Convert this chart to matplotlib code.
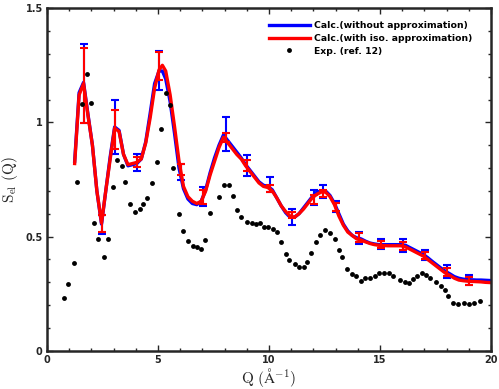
import matplotlib
matplotlib.use('Agg')
import matplotlib.pyplot as plt
from matplotlib.ticker import MultipleLocator

# calculated curves
q_calc = [1.25, 1.45, 1.65, 1.85, 2.05, 2.25, 2.46, 2.65, 2.85, 3.05, 3.25, 3.45, 3.65, 3.85,
          4.05, 4.25, 4.45, 4.65, 4.85, 5.05, 5.2, 5.35, 5.55, 5.75, 5.95, 6.15, 6.35, 6.55,
          6.75, 6.95, 7.15, 7.35, 7.55, 7.75, 7.95, 8.15, 8.35, 8.55, 8.75, 8.95, 9.15, 9.35,
          9.55, 9.75, 9.95, 10.15, 10.35, 10.55, 10.75, 10.95, 11.15, 11.35, 11.55, 11.75,
          11.95, 12.15, 12.35, 12.55, 12.75, 12.95, 13.15, 13.35, 13.55, 13.75, 13.95, 14.15,
          14.35, 14.55, 14.75, 14.95, 15.15, 15.35, 15.55, 15.75, 15.95, 16.15, 16.35, 16.55,
          16.75, 16.95, 17.15, 17.35, 17.55, 17.75, 17.95, 18.15, 18.35, 18.55, 18.75, 18.95,
          19.15, 19.35, 19.55, 19.75, 19.95]
s_full = [0.83, 1.13, 1.175, 1.035, 0.90, 0.70, 0.555, 0.70, 0.85, 0.98, 0.965, 0.86, 0.81, 0.815,
          0.82, 0.84, 0.915, 1.04, 1.17, 1.225, 1.225, 1.19, 1.09, 0.95, 0.80, 0.71, 0.665, 0.645,
          0.64, 0.655, 0.705, 0.78, 0.845, 0.90, 0.945, 0.92, 0.895, 0.87, 0.845, 0.815, 0.79, 0.765,
          0.74, 0.725, 0.72, 0.705, 0.67, 0.635, 0.605, 0.585, 0.585, 0.60, 0.625, 0.65,
          0.675, 0.695, 0.70, 0.70, 0.68, 0.645, 0.60, 0.555, 0.525, 0.505, 0.495, 0.49,
          0.48, 0.472, 0.468, 0.465, 0.465, 0.465, 0.465, 0.465, 0.465, 0.462, 0.452, 0.442,
          0.432, 0.422, 0.408, 0.392, 0.377, 0.362, 0.348, 0.337, 0.325, 0.318, 0.314, 0.312,
          0.311, 0.31, 0.31, 0.309, 0.308]
s_iso = [0.82, 1.12, 1.17, 1.03, 0.90, 0.70, 0.56, 0.70, 0.84, 0.975, 0.96, 0.86, 0.815, 0.82,
         0.825, 0.84, 0.91, 1.02, 1.15, 1.23, 1.25, 1.225, 1.12, 0.98, 0.83, 0.72, 0.675, 0.655,
         0.645, 0.655, 0.70, 0.77, 0.83, 0.89, 0.935, 0.91, 0.885, 0.86, 0.84, 0.81, 0.785, 0.76,
         0.735, 0.72, 0.715, 0.70, 0.67, 0.635, 0.61, 0.59, 0.585, 0.60, 0.62, 0.645,
         0.67, 0.685, 0.695, 0.695, 0.675, 0.64, 0.59, 0.55, 0.52, 0.505, 0.49, 0.485,
         0.477, 0.47, 0.465, 0.462, 0.461, 0.46, 0.46, 0.46, 0.46, 0.455, 0.445, 0.435,
         0.425, 0.415, 0.40, 0.385, 0.37, 0.355, 0.34, 0.33, 0.318, 0.31, 0.307, 0.305,
         0.304, 0.303, 0.302, 0.30, 0.299]

# error bars
q_err = [1.67, 2.46, 3.06, 4.04, 5.05, 6.02, 7.04, 8.05, 9.02, 10.05, 11.05, 12.04, 12.45,
         13.02, 14.05, 15.03, 16.02, 17.03, 18.03, 19.02]
full_c = [1.172, 0.553, 0.98, 0.825, 1.227, 0.784, 0.675, 0.95, 0.812, 0.728, 0.586, 0.67, 0.698,
          0.633, 0.494, 0.467, 0.461, 0.42, 0.347, 0.31]
full_e = [0.173, 0.043, 0.117, 0.037, 0.086, 0.036, 0.041, 0.074, 0.045, 0.031, 0.035, 0.032, 0.028,
          0.024, 0.028, 0.022, 0.027, 0.022, 0.029, 0.023]
iso_c = [1.162, 0.556, 0.969, 0.828, 1.247, 0.795, 0.674, 0.934, 0.812, 0.712, 0.595, 0.662, 0.69,
         0.629, 0.497, 0.466, 0.46, 0.417, 0.346, 0.307]
iso_e = [0.164, 0.037, 0.086, 0.022, 0.062, 0.025, 0.031, 0.019, 0.024, 0.015, 0.015, 0.021, 0.015,
         0.017, 0.019, 0.017, 0.018, 0.016, 0.018, 0.018]

# experiment (ref. 12)
q_exp = [0.77, 0.96, 1.20, 1.37, 1.58, 1.79, 1.98, 2.13, 2.31, 2.55, 2.76, 2.99, 3.14, 3.38, 3.53,
         3.75, 3.98, 4.19, 4.35, 4.52, 4.73, 4.95, 5.14, 5.36, 5.55, 5.68, 5.96, 6.11, 6.37, 6.58,
         6.76, 6.95, 7.14, 7.36, 7.76, 7.97, 8.18, 8.38, 8.54, 8.74, 9.02, 9.22, 9.41, 9.61, 9.79,
         9.97, 10.17, 10.35, 10.54, 10.75, 10.89, 11.16, 11.35, 11.56, 11.73, 11.88, 12.1, 12.28,
         12.54, 12.75, 12.96, 13.15, 13.3, 13.53, 13.75, 13.93, 14.14, 14.34, 14.55, 14.76, 14.94,
         15.18, 15.41, 15.57, 15.9, 16.11, 16.31, 16.47, 16.68, 16.89, 17.07, 17.27, 17.51, 17.73,
         17.93, 18.08, 18.3, 18.51, 18.78, 19.0, 19.25, 19.5]
s_exp = [0.23, 0.293, 0.383, 0.738, 1.079, 1.21, 1.083, 0.558, 0.49, 0.41, 0.49, 0.718, 0.835, 0.81,
         0.738, 0.644, 0.609, 0.622, 0.641, 0.668, 0.735, 0.826, 0.971, 1.127, 1.074, 0.80, 0.599,
         0.526, 0.482, 0.459, 0.456, 0.447, 0.487, 0.602, 0.672, 0.724, 0.724, 0.678, 0.616, 0.586,
         0.563, 0.558, 0.554, 0.561, 0.541, 0.543, 0.532, 0.522, 0.478, 0.423, 0.397, 0.38, 0.369,
         0.369, 0.39, 0.43, 0.478, 0.509, 0.529, 0.516, 0.488, 0.442, 0.41, 0.357, 0.337, 0.327,
         0.307, 0.318, 0.318, 0.328, 0.342, 0.342, 0.342, 0.327, 0.31, 0.303, 0.299, 0.316, 0.329,
         0.342, 0.334, 0.321, 0.303, 0.283, 0.267, 0.239, 0.209, 0.207, 0.209, 0.207, 0.209, 0.22]

plt.rcParams['mathtext.fontset'] = 'cm'
edge = '#262626'

fig = plt.figure(figsize=(4.99, 3.89), dpi=100)
ax = fig.add_axes([0.094, 0.098, 0.89, 0.881])

ax.plot(q_calc, s_full, color='blue', lw=2.4, label='Calc.(without approximation)')
ax.errorbar(q_err, full_c, yerr=full_e, fmt='none', ecolor='blue', elinewidth=1.5,
            capsize=3, capthick=1.5)
ax.plot(q_calc, s_iso, color='red', lw=2.4, label='Calc.(with iso. approximation)')
ax.errorbar(q_err, iso_c, yerr=iso_e, fmt='none', ecolor='red', elinewidth=1.5,
            capsize=3, capthick=1.5)
ax.plot(q_exp, s_exp, 'o', color='black', ms=3.5, mec='none', label='Exp. (ref. 12)')

ax.set_xlim(0, 20)
ax.set_ylim(0, 1.5)
ax.set_xticks([0, 5, 10, 15, 20])
ax.set_yticks([0, 0.5, 1, 1.5])
ax.set_xticklabels(['0', '5', '10', '15', '20'])
ax.set_yticklabels(['0', '0.5', '1', '1.5'])
ax.xaxis.set_minor_locator(MultipleLocator(1))
ax.yaxis.set_minor_locator(MultipleLocator(0.1))

ax.tick_params(which='both', direction='in', top=True, right=True, colors=edge,
               labelsize=7, pad=3, width=1)
ax.tick_params(which='major', length=4.5)
ax.tick_params(which='minor', length=2.5)
for lab in ax.get_xticklabels() + ax.get_yticklabels():
    lab.set_fontweight('bold')
for sp in ax.spines.values():
    sp.set_linewidth(1.8)
    sp.set_color(edge)

ax.set_xlabel(r'$\mathrm{Q\ (\AA^{-1})}$', fontsize=11, color=edge, labelpad=1)
ax.set_ylabel(r'$\mathrm{S_{el}\ (Q)}$', fontsize=11, color=edge, labelpad=4)

ax.legend(loc='upper right', bbox_to_anchor=(0.958, 0.962), frameon=False,
          prop={'weight': 'bold', 'size': 6.7}, borderpad=0, borderaxespad=0,
          handlelength=4.4, handletextpad=0.45, labelspacing=0.4)

fig.savefig('out.png', dpi=100)
